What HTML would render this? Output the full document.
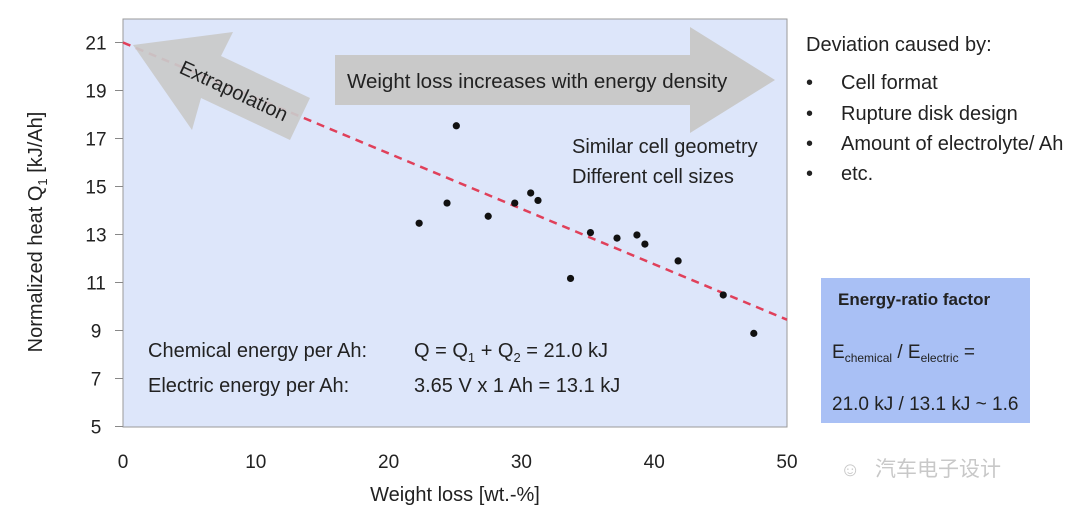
<!DOCTYPE html>
<html><head><meta charset="utf-8"><style>
html,body{margin:0;padding:0;background:#fff;}
svg{display:block;font-family:"Liberation Sans","Noto Sans CJK SC",sans-serif;}
</style></head><body>
<svg id="chart" width="1080" height="516" viewBox="0 0 1080 516">
<rect x="123" y="19" width="664" height="408" fill="#dde6fa" stroke="#9a9a9a" stroke-width="1"/>
<g id="axes"></g>
<g id="marks"></g>
<polygon points="335,55 690,55 690,27 775,80 690,133 690,105 335,105" fill="#c9c9c9"/>
<text x="347" y="88" font-size="20.5" fill="#222">Weight loss increases with energy density</text>
<g>
<polygon points="133,45 233,32 221,56 310,98 290,140 201,98 192,130" fill="#c9c9c9" fill-opacity="0.93"/>
<text transform="translate(231,97) rotate(25)" text-anchor="middle" font-size="20" fill="#222">Extrapolation</text>
</g>
<text x="572" y="153" font-size="20" fill="#222">Similar cell geometry</text>
<text x="572" y="183" font-size="20" fill="#222">Different cell sizes</text>
<text x="148" y="357" font-size="20" fill="#222">Chemical energy per Ah:</text>
<text x="414" y="357" font-size="20" fill="#222">Q = Q<tspan font-size="13" dy="5">1</tspan><tspan dy="-5"> + Q</tspan><tspan font-size="13" dy="5">2</tspan><tspan dy="-5"> = 21.0 kJ</tspan></text>
<text x="148" y="392" font-size="20" fill="#222">Electric energy per Ah:</text>
<text x="414" y="392" font-size="20" fill="#222">3.65 V x 1 Ah = 13.1 kJ</text>
<text x="455" y="501" font-size="20" fill="#222" text-anchor="middle">Weight loss [wt.-%]</text>
<text transform="translate(42,232) rotate(-90)" font-size="20" fill="#222" text-anchor="middle">Normalized heat Q<tspan font-size="13" dy="5">1</tspan><tspan dy="-5"> [kJ/Ah]</tspan></text>
<g>
<text x="806" y="51" font-size="20" fill="#222">Deviation caused by:</text>
<text x="806" y="89" font-size="20" fill="#222">•</text><text x="841" y="89" font-size="20" fill="#222">Cell format</text>
<text x="806" y="120" font-size="20" fill="#222">•</text><text x="841" y="120" font-size="20" fill="#222">Rupture disk design</text>
<text x="806" y="150" font-size="20" fill="#222">•</text><text x="841" y="150" font-size="20" fill="#222">Amount of electrolyte/ Ah</text>
<text x="806" y="180" font-size="20" fill="#222">•</text><text x="841" y="180" font-size="20" fill="#222">etc.</text>
</g>
<g>
<rect x="821" y="278" width="209" height="145" fill="#a9c0f5"/>
<text x="838" y="305" font-size="17" font-weight="bold" fill="#222">Energy-ratio factor</text>
<text x="832" y="358" font-size="19" fill="#222">E<tspan font-size="12" dy="4">chemical</tspan><tspan dy="-4"> / E</tspan><tspan font-size="12" dy="4">electric</tspan><tspan dy="-4"> =</tspan></text>
<text x="832" y="410" font-size="19" fill="#222">21.0 kJ / 13.1 kJ ~ 1.6</text>
</g>
<text x="875" y="476" font-size="21" fill="#c8c8c8">汽车电子设计</text>
<text x="840" y="476" font-size="20" fill="#c8c8c8">☺</text>
</svg>
<script>
const xTicks=[0,10,20,30,40,50];
const yTicks=[5,7,9,11,13,15,17,19,21];
const weightLoss=[22.3,25.1,24.4,27.5,29.5,30.7,31.25,35.2,37.2,38.7,39.3,41.8,33.7,45.2,47.5];
const heatQ1=[13.47,17.53,14.31,13.76,14.31,14.73,14.42,13.08,12.85,12.98,12.6,11.9,11.17,10.48,8.88];
const fitX=[0,50];
const fitY=[21,9.45];
const NS='http://www.w3.org/2000/svg';
const xs=v=>123+v*(664/50);
const ys=v=>426.5-(v-5)*24;
const axes=document.getElementById('axes'),marks=document.getElementById('marks');
function mk(tag,attrs,parent){const e=document.createElementNS(NS,tag);for(const k in attrs)e.setAttribute(k,attrs[k]);parent.appendChild(e);return e;}
xTicks.forEach(t=>{
 const tx=mk('text',{x:xs(t),y:468,'font-size':19,fill:'#222','text-anchor':'middle'},axes);
 tx.textContent=t;
 
 
});
yTicks.forEach(t=>{
 const ln=mk('line',{x1:115,x2:123,y1:ys(t),y2:ys(t),stroke:'#888'},axes);
 
 
 const tx=mk('text',{x:96,y:ys(t)+7,'font-size':19,fill:'#222','text-anchor':'middle'},axes);
 tx.textContent=t;
 
 
});
const fit=mk('line',{x1:xs(fitX[0]),y1:ys(fitY[0]),x2:xs(fitX[1]),y2:ys(fitY[1]),stroke:'#e0405a','stroke-width':2.5,'stroke-dasharray':'8,6'},marks);


weightLoss.forEach((w,i)=>{
 const c=mk('circle',{cx:xs(w),cy:ys(heatQ1[i]),r:3.6,fill:'#111'},marks);
 
 
});
</script>
</body></html>
